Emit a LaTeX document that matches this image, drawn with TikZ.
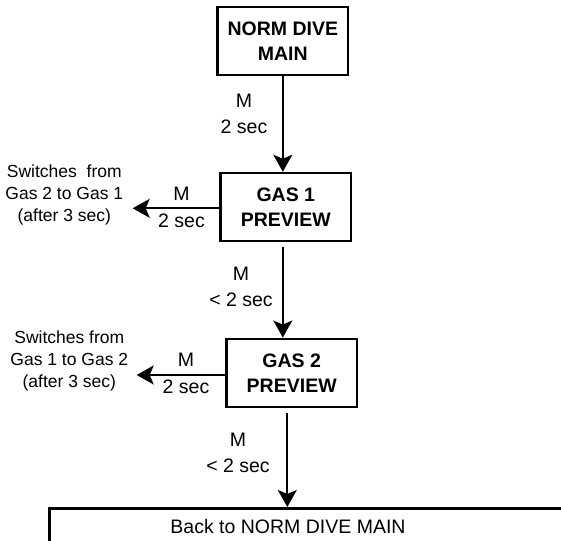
\documentclass[tikz,border=0pt]{standalone}
\usepackage{fontspec}
\setmainfont{Liberation Sans}
\usetikzlibrary{arrows.meta}

\begin{document}
\begin{tikzpicture}[x=1pt,y=-1pt,
  state/.style={draw,line width=2.5pt,minimum width=130.5pt,minimum height=68pt,
    inner sep=0pt,align=center,font=\fontsize{19.5}{24.8}\selectfont\bfseries},
  backbox/.style={draw,line width=2.5pt,minimum width=620pt,minimum height=90pt,
    inner sep=0pt,anchor=north west},
  lbl/.style={align=center,inner sep=0pt,font=\fontsize{19.5}{26.3}\selectfont},
  note/.style={align=center,inner sep=0pt,font=\fontsize{17.5}{22}\selectfont},
  arr/.style={-{Stealth[length=17pt,width=19pt,inset=4pt]},line width=2pt}
]
\useasboundingbox (0,0) rectangle (561,540);
\clip (0,0) rectangle (561,540);
\node[state] (main) at (282.8,41.2) {NORM DIVE\\MAIN};
\node[state] (gas1) at (285.8,207) {GAS 1\\PREVIEW};
\node[state] (gas2) at (291.7,372.8) {GAS 2\\PREVIEW};
\node[backbox] (back) at (48,507) {};
\node[lbl] (backtxt) at (288,526.5) {Back to NORM DIVE MAIN};
\node[lbl] (m1) at (244,114) {M\\2 sec};
\node[lbl] (m2) at (241,287) {M\\< 2 sec};
\node[lbl] (m3) at (181.5,207.5) {M\\2 sec};
\node[lbl] (m4) at (186,373.5) {M\\2 sec};
\node[lbl] (m5) at (238,453) {M\\< 2 sec};
\node[note] (sw1) at (64.3,195) {Switches\ \ from\\Gas 2 to Gas 1\\(after 3 sec)};
\node[note] (sw2) at (69.3,361) {Switches from\\Gas 1 to Gas 2\\(after 3 sec)};
\coordinate (t1) at (132.7,208.3);
\coordinate (t2) at (136.7,375);
\draw[arr] (main.south) -- (main.south |- gas1.north);
\draw[arr] ([yshift=-4.4pt]gas1.south -| main) -- (gas2.north -| main);
\draw[arr] ([xshift=-4.4pt,yshift=-4.7pt]gas2.south) -- ([xshift=-4.4pt]gas2.south |- back.north);
\draw[arr] (gas1.west |- t1) -- (t1);
\draw[arr] (gas2.west |- t2) -- (t2);
\end{tikzpicture}
\end{document}
